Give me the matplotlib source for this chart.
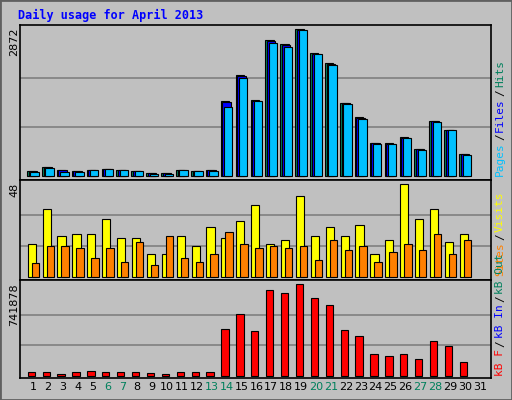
import matplotlib
matplotlib.use("Agg")
import matplotlib.pyplot as plt
from matplotlib.patches import Rectangle

days = list(range(1, 32))
hits  = [100,175,120,100,120,140,120,100,60,60,120,100,120,1465,1970,1480,2650,2575,2872,2400,2200,1425,1150,645,645,760,530,1075,900,430,0]
files = [95,170,110,95,115,135,115,95,55,55,115,95,115,1440,1950,1475,2630,2550,2860,2390,2190,1420,1140,640,635,750,525,1070,895,425,0]
pages = [80,165,70,75,110,130,110,90,45,40,110,90,100,1350,1920,1460,2600,2520,2850,2380,2170,1410,1120,630,620,740,510,1060,890,420,0]
visits = [17,35,21,22,22,30,20,20,12,12,21,16,26,20,29,37,17,19,42,21,26,21,27,12,19,48,30,35,18,22,0]
sites  = [7,16,16,15,10,15,8,18,6,21,10,8,12,23,17,15,16,15,16,9,19,14,16,8,13,17,14,22,12,19,0]
kbf = [30000,30000,16000,30000,38000,30000,30000,30000,22000,16000,30000,30000,30000,378000,500000,360000,695000,670000,741878,630000,572000,370000,320000,175000,158000,175000,133000,280000,239000,109000,0]
weekend = [6,7,13,14,20,21,27,28]

W, H = 512, 400
BG = "#c0c0c0"
fig = plt.figure(figsize=(W/100, H/100), dpi=100, facecolor=BG)
fig.patches.append(Rectangle((0, 0), 1, 1, transform=fig.transFigure, fill=False,
                             edgecolor="#606060", lw=2))

def ax_px(x0, y0, x1, y1):
    ax = fig.add_axes([x0/W, 1-y1/H, (x1-x0)/W, (y1-y0)/H])
    ax.set_facecolor(BG)
    ax.set_xlim(0.128, 31.74)
    ax.set_xticks([]); ax.set_yticks([])
    for s in ax.spines.values():
        s.set_color("black"); s.set_linewidth(1.2)
    return ax

def bars(ax, vals, off, width, color, z):
    xs = [d + off for d, v in zip(days, vals) if v > 0]
    vs = [v for v in vals if v > 0]
    ax.bar(xs, vs, width=width, align="edge", color=color, edgecolor="black", lw=0.8, zorder=z)

mono = "DejaVu Sans Mono"

a1 = ax_px(20, 25, 491, 180)
a1.set_ylim(-78, 2950)
for g in (957, 1915):
    a1.axhline(g, color="#808080", lw=1.2, zorder=0)
bars(a1, hits, -0.4, 0.56, "#00805c", 2)
bars(a1, files, -0.29, 0.56, "#0000ff", 3)
bars(a1, pages, -0.17, 0.56, "#00c0ff", 4)

a2 = ax_px(20, 180, 491, 280)
a2.set_ylim(-1.5, 50)
for g in (16, 32):
    a2.axhline(g, color="#808080", lw=1.2, zorder=0)
bars(a2, visits, -0.36, 0.55, "#ffff00", 2)
bars(a2, sites, -0.09, 0.5, "#ff8000", 3)

a3 = ax_px(20, 280, 491, 378)
a3.set_ylim(-19000, 777000)
for g in (247300, 494600):
    a3.axhline(g, color="#808080", lw=1.2, zorder=0)
bars(a3, kbf, -0.36, 0.49, "#ff0000", 2)

for d in days:
    a3.text(d, -0.09, str(d), transform=a3.get_xaxis_transform(), ha="center", va="center",
            fontsize=8, family="DejaVu Sans", color="#00805c" if d in weekend else "black")

fig.text(18/W, 1-15/H, "Daily usage for April 2013", color="#0000ff", fontsize=8.5,
         family=mono, fontweight="bold", ha="left", va="center")
for y, t in ((25, "2872"), (180, "48"), (280, "741878")):
    fig.text(14/W, 1-(y+3)/H, t, rotation=90, ha="center", va="top", fontsize=8, family="DejaVu Sans")

renderer = fig.canvas.get_renderer()

def vlabel(ybottom, parts):
    y = ybottom
    for txt, col in parts:
        t = fig.text(500/W, 1-y/H, txt, rotation=90, ha="center", va="bottom",
                     fontsize=8, family=mono, color=col)
        bb = t.get_window_extent(renderer)
        y -= bb.height + 2

vlabel(176, [("Pages", "#00c0ff"), ("/", "black"), ("Files", "#0000ff"), ("/", "black"), ("Hits", "#00805c")])
vlabel(276, [("Sites", "#ff8000"), ("/", "black"), ("Visits", "#ffff00")])
vlabel(376, [("kB F", "#ff0000"), ("/", "black"), ("kB In", "#0000ff"), ("/", "black"), ("kB Out", "#00805c")])

fig.savefig("out.png", dpi=100, facecolor=BG)
